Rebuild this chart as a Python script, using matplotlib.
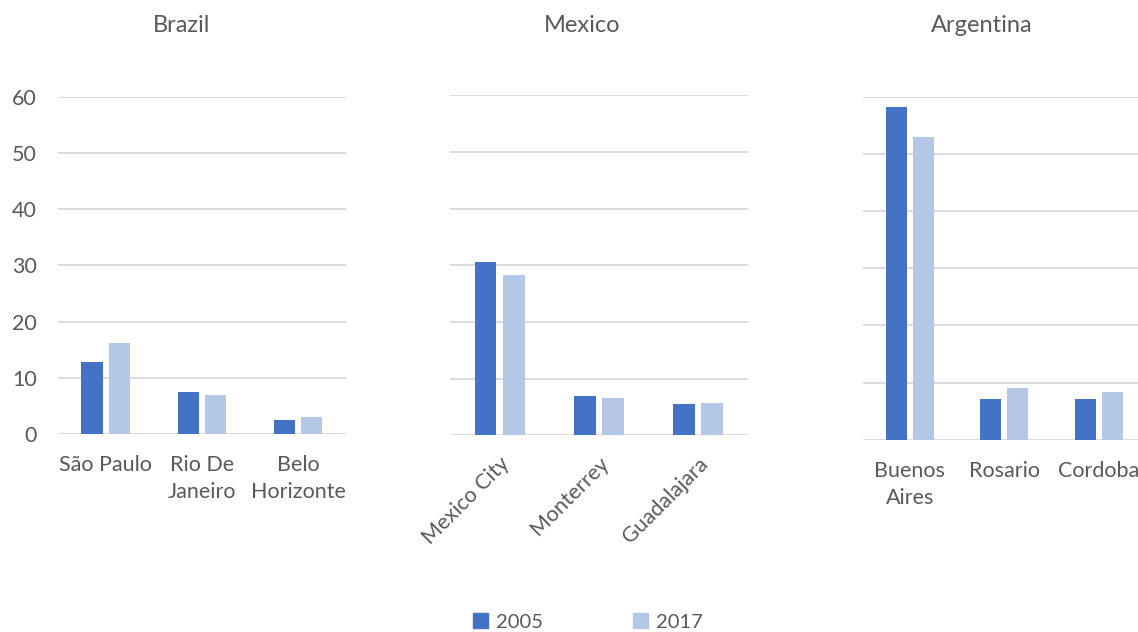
import numpy as np
import matplotlib.pyplot as plt
from matplotlib.patches import Patch

countries = ['Brazil', 'Mexico', 'Argentina']
cities = [['São Paulo', 'Rio De\nJaneiro', 'Belo\nHorizonte'],
          ['Mexico City', 'Monterrey', 'Guadalajara'],
          ['Buenos\nAires', 'Rosario', 'Cordoba']]
years = ['2005', '2017']
vals_2005 = [[12.75, 7.5, 2.55],
             [30.5, 6.9, 5.45],
             [58.2, 7.05, 7.05]]
vals_2017 = [[16.1, 7.0, 2.95],
             [28.3, 6.5, 5.75],
             [53.0, 9.1, 8.35]]

c05 = '#4472C4'
c17 = '#B4C7E7'
grid_c = '#D9D9D9'
txt_c = '#595959'
plt.rcParams['font.family'] = ['Lato', 'DejaVu Sans']

W, H = 1138, 632
fig = plt.figure(figsize=(W / 100, H / 100), dpi=100)

# axes boxes in pixels: left, top, right, bottom
boxes = [(57.7, 96.7, 346, 434),
         (450, 95.3, 747.7, 435.3),
         (862.7, 96.7, 1146, 439.7)]
title_x = [182, 582, 982]

for i, (l, t, r, b) in enumerate(boxes):
    ax = fig.add_axes([l / W, 1 - b / H, (r - l) / W, (b - t) / H])
    x = np.arange(3)
    ax.bar(x - 0.143, vals_2005[i], 0.22, color=c05, zorder=3)
    ax.bar(x + 0.143, vals_2017[i], 0.22, color=c17, zorder=3)
    ax.set_xlim(-0.5, 2.5)
    ax.set_ylim(0, 60)
    ax.set_yticks(np.arange(0, 61, 10))
    ax.grid(axis='y', color=grid_c, linewidth=1.3, zorder=0)
    for s in ax.spines.values():
        s.set_visible(False)
    ax.tick_params(length=0, labelsize=15.5, colors=txt_c)
    if i != 0:
        ax.set_yticklabels([])
    else:
        ax.tick_params(axis='y', pad=15)
    ax.set_xticks(x)
    if i == 1:
        ax.set_xticklabels(cities[i], rotation=45, ha='right',
                           rotation_mode='anchor')
        ax.tick_params(axis='x', pad=13)
    else:
        ax.set_xticklabels(cities[i], linespacing=1.45, va='top')
        ax.tick_params(axis='x', pad=15)
    fig.text(title_x[i] / W, 1 - 25 / H, countries[i], ha='center',
             va='center', fontsize=17, color=txt_c)

handles = [Patch(color=c05), Patch(color=c17)]
fig.legend(handles, years, loc='center', bbox_to_anchor=(588 / W, 1 - 622 / H),
           ncol=2, frameon=False, fontsize=14.5, handlelength=0.72,
           handleheight=0.72, columnspacing=4.5, handletextpad=0.4,
           labelcolor=txt_c)

fig.savefig('out.png', dpi=100)
